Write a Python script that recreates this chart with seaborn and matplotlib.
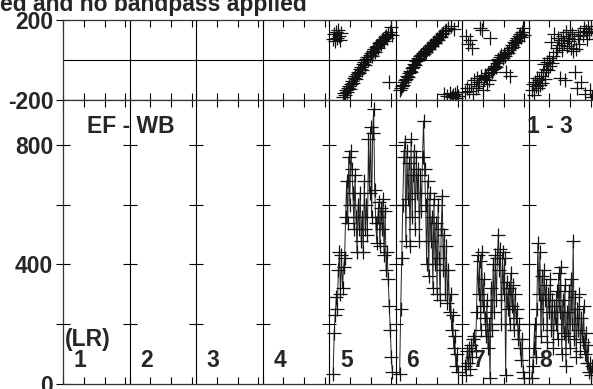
import matplotlib
matplotlib.use("Agg")
import matplotlib.pyplot as plt
import numpy as np
import pandas as pd
import seaborn as sns

# baselines shown (only 5-8 carry data), 64 channels per baseline box
baselines = [5, 6, 7, 8]
n_chan = 64
first_channel = {5: 4, 6: 4, 7: 3, 8: 3}

amp5 = [35, 170, 230, 290, 250, 380, 440, 300, 430, 320,
        390, 420, 560, 680, 540, 760, 600, 780, 720, 640,
        520, 700, 560, 440, 600, 520, 640, 480, 560, 440,
        680, 520, 600, 500, 820, 640, 860, 560, 840, 920,
        650, 540, 470, 560, 610, 460, 590, 520, 620, 430,
        580, 380, 440, 350, 260, 180, 90, 40]
phase5 = [105, 130, 95, 140, 110, 150, 120, 100, 135, -185,
          -165, -175, -150, -160, -140, -130, -145, -120, -105, -115,
          -90, -80, -95, -70, -60, -65, -45, -35, -50, -20,
          -10, -25, 5, 15, 0, 25, 35, 20, 45, 55,
          40, 65, 70, 60, 85, 90, 80, 100, 105, 95,
          115, 120, 110, 130, -110, 140, 165, 125]

amp6 = [35, 250, 420, 600, 760, 810, 480, 780, 620, 740,
        460, 820, 560, 700, 780, 520, 760, 640, 720, 480,
        700, 580, 760, 880, 720, 600, 400, 680, 360, 640,
        480, 560, 320, 620, 400, 540, 300, 600, 420, 280,
        520, 630, 380, 500, 300, 460, 270, 380, 240, 300,
        180, 230, 120, 160, 60, 100, 40]
phase6 = [-150, -140, -130, -125, -110, -100, -95, -80, -85, -65,
          -55, -60, -40, -35, -20, -25, -5, 0, 10, 5,
          20, 25, 35, 30, 45, 40, 55, 60, 55, 70,
          75, 70, 85, 90, 85, 100, 105, 100, 115, 120,
          115, 130, 135, -170, 145, 150, -180, 160, -165, 170,
          -185, -175, 155, -170, -190, -160, -180]

amp7 = [60, 30, 110, 70, 120, 50, 130, 90, 150, 160,
        110, 240, 430, 300, 410, 180, 440, 260, 350, 220,
        160, 280, 120, 200, 20, 320, 180, 400, 240, 430,
        280, 420, 500, 380, 450, 200, 440, 300, 420, 30,
        340, 250, 320, 200, 370, 260, 330, 180, 300, 220,
        250, 150, 200, 120, 80, 150, 40, 20]
phase7 = [-160, 120, -140, 80, -155, 100, -120, 60, -170, -100,
          -140, -90, -130, -110, 160, -80, 150, -150, -95, -75,
          -85, -120, -65, -100, 110, -50, -60, -45, -40, -30,
          -35, -15, 5, -5, 15, 25, 10, 30, 20, -60,
          40, 35, 50, -80, 60, 75, 65, 90, 85, 100,
          110, 95, 120, 130, 115, 140, 160, 125]

amp8 = [20, 60, 120, 200, 90, 250, 470, 300, 440, 160,
        360, 200, 380, 280, 330, 140, 300, 240, 350, 180,
        280, 120, 260, 200, 310, 150, 370, 240, 390, 100,
        280, 170, 330, 60, 240, 160, 310, 120, 350, 200,
        480, 150, 290, 90, 250, 180, 300, 110, 220, 140,
        260, 100, 170, 70, 130, 40, 70, 30, 60, 40]
phase8 = [-150, -120, -175, -110, -130, -90, -140, -100, -125, -80,
          -115, -60, -20, -95, -45, -10, -50, 10, -30, 90,
          -15, 20, 130, 40, 60, 110, 75, -90, 100, 50,
          120, 85, -100, 140, 70, 110, 95, 150, 60, 130,
          45, 105, -60, 55, -140, 120, 80, 140, -110, 125,
          160, -170, 145, 105, 170, 135, -150, 155, -185, 140]

amps = {5: amp5, 6: amp6, 7: amp7, 8: amp8}
phases = {5: phase5, 6: phase6, 7: phase7, 8: phase8}

frames = []
for b in baselines:
    ch = np.arange(first_channel[b], first_channel[b] + len(amps[b]))
    frames.append(pd.DataFrame({
        'baseline': b,
        'x': (b - 1) * n_chan + ch,
        'amp': amps[b],
        'phase': phases[b],
    }))
df = pd.concat(frames, ignore_index=True)

sns.set_style("ticks")
plt.rcParams['font.family'] = ['Liberation Sans', 'DejaVu Sans']
plt.rcParams['font.weight'] = 'bold'

W, H = 593, 389
fig = plt.figure(figsize=(W / 100, H / 100), dpi=100)
ax_ph = fig.add_axes([63 / W, 1 - 100 / H, 532 / W, 80 / H])
ax_amp = fig.add_axes([63 / W, 1 - 384 / H, 532 / W, 284 / H])

sns.scatterplot(data=df, x='x', y='phase', marker='+', s=110, color='#111111',
                linewidth=0.9, ax=ax_ph, legend=False)
sns.lineplot(data=df, x='x', y='amp', units='baseline', estimator=None,
             color='#222222', lw=0.7, marker='+', ms=9.5, mew=0.9, mec='#111111',
             ax=ax_amp, legend=False)

minor_x = [c * n_chan + t for c in range(8) for t in (0, 20, 40, 60)]
for ax in (ax_ph, ax_amp):
    ax.set_xlim(0, 8 * n_chan)
    ax.set_xticks(minor_x)
    ax.set_xticklabels([])
    ax.tick_params(axis='x', direction='in', length=5, width=0.8,
                   top=True, bottom=True, color='k')
    ax.tick_params(axis='y', direction='inout', length=10, width=0.8,
                   labelsize=16.5, pad=2, color='k')
    ax.set_xlabel('')
    ax.set_ylabel('')
    for sp in ax.spines.values():
        sp.set_color('#333333')
        sp.set_linewidth(0.9)
    for c in range(1, 8):
        ax.axvline(c * n_chan, color='k', lw=0.8)

ax_ph.set_ylim(-200, 200)
ax_ph.set_yticks([-200, 200])
ax_ph.set_yticklabels(['-200', '200'], fontweight='bold')
ax_ph.axhline(0, color='k', lw=0.8)

ax_amp.set_ylim(0, 950)
ax_amp.set_yticks([0, 200, 400, 600, 800])
ax_amp.set_yticklabels(['0', '', '400', '', '800'], fontweight='bold')
for c in range(1, 8):
    ax_amp.plot([c * n_chan] * 4, [200, 400, 600, 800], ls='none', marker='_',
                ms=10, mew=0.8, color='k')

txt = dict(fontsize=16.5, fontweight='bold', va='baseline', ha='left')
ax_amp.text(23, 840, 'EF - WB', **txt)
ax_amp.text(446.5, 840, '1 - 3', **txt)
ax_amp.text(2, 127, '(LR)', **txt)
for c in range(8):
    ax_amp.text(c * n_chan + 10.5, 57, str(c + 1), **txt)

fig.text(307 / W, 1 - 11 / H, 'ed and no bandpass applied', ha='right',
         va='baseline', fontsize=16.5, fontweight='bold')

fig.savefig('out.png', dpi=100)
